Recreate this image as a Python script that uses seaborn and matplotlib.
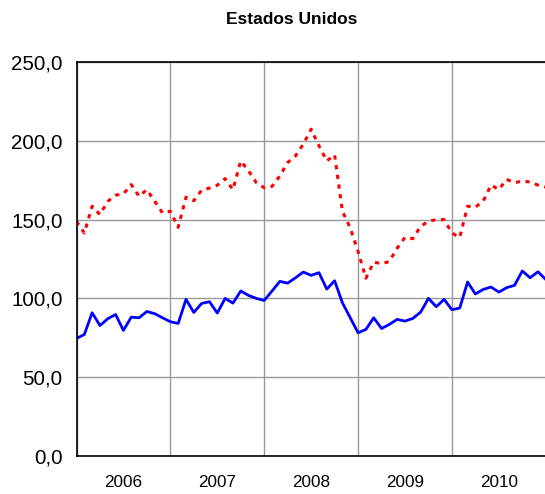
import numpy as np
import pandas as pd
import matplotlib
matplotlib.use("Agg")
import matplotlib.pyplot as plt
import seaborn as sns

# ---------------------------------------------------------
#                 DATA (monthly, Jan 2006 onwards)
# ---------------------------------------------------------

years = ["2006", "2007", "2008", "2009", "2010"]

blue_values = [
    74.6, 77.1, 90.9, 82.8, 87.1, 89.8, 79.7, 88.1, 87.7, 91.7, 90.3, 87.7,
    85.2, 84.1, 99.4, 91.1, 96.8, 97.9, 90.7, 100.0, 97.0, 104.7, 101.9, 100.0,
    98.7, 104.7, 110.8, 109.7, 113.1, 116.7, 114.6, 116.3, 105.9, 111.2, 97.2, 87.7,
    78.2, 80.3, 87.7, 80.9, 83.5, 86.7, 85.6, 87.3, 91.3, 100.0, 94.7, 99.4,
    92.8, 93.9, 110.4, 102.8, 105.7, 107.2, 104.0, 106.8, 108.3, 117.4, 113.1, 116.9,
    112.0,
]

red_values = [
    148.9, 141.5, 158.5, 153.2, 161.6, 165.5, 166.3, 172.2, 164.8, 169.0, 161.6, 154.2,
    155.3, 145.1, 164.2, 162.0, 168.6, 170.0, 171.8, 176.0, 169.0, 187.2, 180.9, 173.4,
    170.2, 171.1, 177.7, 186.2, 190.4, 197.9, 207.4, 196.8, 187.2, 191.1, 155.3, 144.7,
    129.8, 112.8, 123.0, 122.0, 123.4, 131.9, 138.7, 137.9, 145.7, 148.9, 150.0, 150.0,
    141.5, 138.7, 158.5, 157.9, 161.7, 171.9, 169.1, 175.5, 173.4, 174.5, 173.8, 171.9,
    170.6,
]

df = pd.DataFrame({
    "mes": np.arange(len(blue_values)),
    "azul": blue_values,
    "rojo": red_values,
})

# ---------------------------------------------------------
#                 PLOT
# ---------------------------------------------------------

sns.set_style("white")
plt.rcParams["font.family"] = ["Liberation Sans", "DejaVu Sans"]
plt.rcParams["text.color"] = "black"
plt.rcParams["xtick.color"] = "black"
plt.rcParams["ytick.color"] = "black"

fig = plt.figure(figsize=(5.45, 4.94), dpi=100)
ax = fig.add_axes([76.5 / 545, 1 - 456 / 494, 1 - 76.5 / 545, (456 - 62) / 494])

sns.lineplot(data=df, x="mes", y="rojo", ax=ax, color="#FF0000",
             linewidth=2.2, linestyle=(0, (1.4, 1.8)))
sns.lineplot(data=df, x="mes", y="azul", ax=ax, color="#0000FF", linewidth=2.0)

ax.set_xlim(0, 59.9)
ax.set_ylim(0, 250)
ax.set_xlabel("")
ax.set_ylabel("")

ax.set_yticks(np.arange(0, 251, 50))
ax.set_yticklabels([f"{v:.1f}".replace(".", ",") for v in np.arange(0, 251, 50)],
                   fontsize=14.8)

ax.set_xticks([0, 12, 24, 36, 48])
ax.set_xticklabels([])
ax.set_xticks([6, 18, 30, 42, 54], minor=True)
ax.set_xticklabels(years, minor=True, fontsize=12.3)
ax.tick_params(axis="x", which="minor", length=0, pad=14)
ax.tick_params(axis="both", which="major", direction="out", length=5,
               width=1, color="black")
ax.tick_params(axis="y", pad=5)

ax.grid(True, which="major", color="#999999", linewidth=1)
ax.set_axisbelow(True)

for side in ["left", "bottom", "top"]:
    ax.spines[side].set_color("black")
    ax.spines[side].set_linewidth(1.2)
ax.spines["right"].set_visible(False)

fig.text(291.5 / 545, 1 - 20 / 494, "Estados Unidos", ha="center", va="center",
         fontsize=12.5, fontweight="bold", color="black",
         family=["Liberation Sans Narrow", "Liberation Sans", "DejaVu Sans"])

fig.savefig("out.png", dpi=100)
